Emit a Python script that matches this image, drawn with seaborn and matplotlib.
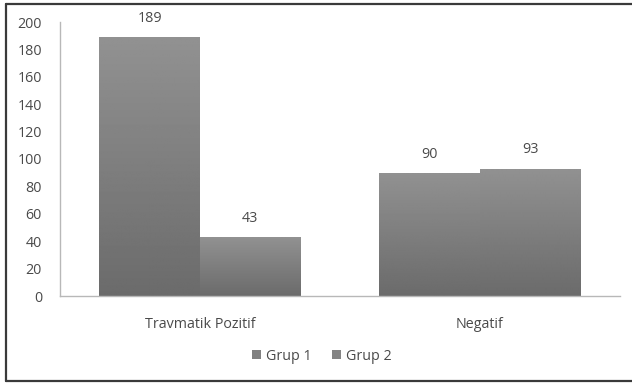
import numpy as np
import pandas as pd
import matplotlib
matplotlib.use("Agg")
import matplotlib.pyplot as plt
from matplotlib.lines import Line2D
from matplotlib.patches import Patch
import seaborn as sns

categories = ["Travmatik Pozitif", "Negatif"]
series_names = ["Grup 1", "Grup 2"]
grup1 = [189, 90]
grup2 = [43, 93]
yticks = [0, 20, 40, 60, 80, 100, 120, 140, 160, 180, 200]

df = pd.DataFrame({
    "kategori": categories * 2,
    "grup": [series_names[0]] * len(categories) + [series_names[1]] * len(categories),
    "deger": grup1 + grup2,
})

sns.set_theme(style="white")
plt.rcParams["font.family"] = ["Open Sans", "DejaVu Sans"]
txt_color = "#4a4a4a"
fs = 10.3

fig = plt.figure(figsize=(6.32, 3.83), dpi=100)
ax = fig.add_axes([60 / 632, 1 - 296 / 383, (620 - 60) / 632, (296 - 22) / 383])

palette = {"Grup 1": "#808080", "Grup 2": "#848484"}
sns.barplot(data=df, x="kategori", y="deger", hue="grup", order=categories,
            hue_order=series_names, palette=palette, width=0.72, gap=0,
            saturation=1, ax=ax, legend=False, linewidth=0)

# vertical gradient fill for each bar
grad = np.linspace(0.57, 0.42, 256).reshape(-1, 1)
for p in list(ax.patches):
    x0, y0 = p.get_x(), p.get_y()
    w, h = p.get_width(), p.get_height()
    if h <= 0:
        continue
    im = ax.imshow(grad[::-1], extent=(x0, x0 + w, y0, y0 + h), origin="lower",
                   cmap="gray", vmin=0, vmax=1, aspect="auto", zorder=2)
    im.set_clip_path(p)
    p.set_zorder(1)

for cont in ax.containers:
    ax.bar_label(cont, fmt="%d", padding=8, fontsize=fs, color=txt_color)

ax.set_xlim(-0.5, 1.5)
ax.set_ylim(0, 200)
ax.set_yticks(yticks)
ax.set_yticklabels([str(v) for v in yticks])
ax.set_xlabel("")
ax.set_ylabel("")
ax.tick_params(axis="both", length=0, labelsize=fs, colors=txt_color)
ax.tick_params(axis="y", pad=13)
ax.tick_params(axis="x", pad=15)
for s in ["top", "right"]:
    ax.spines[s].set_visible(False)
for s in ["left", "bottom"]:
    ax.spines[s].set_color("#b8b8b8")
    ax.spines[s].set_linewidth(1.0)

handles = [Patch(facecolor=palette[n], edgecolor="none") for n in series_names]
fig.legend(handles, series_names, loc="center", bbox_to_anchor=(322 / 632, 1 - 356 / 383),
           ncol=2, frameon=False, fontsize=fs, handlelength=0.6, handleheight=0.6,
           handletextpad=0.4, columnspacing=1.4, labelcolor=txt_color)

# outer frame
W, H = 632, 383
for (xa, ya, xb, yb) in [(6, 4, 6, 381), (6, 4, 640, 4), (6, 381, 640, 381)]:
    fig.add_artist(Line2D([xa / W, xb / W], [1 - ya / H, 1 - yb / H],
                          transform=fig.transFigure, color="#3a3a3a", linewidth=1.6))

fig.savefig("out.png", dpi=100)
